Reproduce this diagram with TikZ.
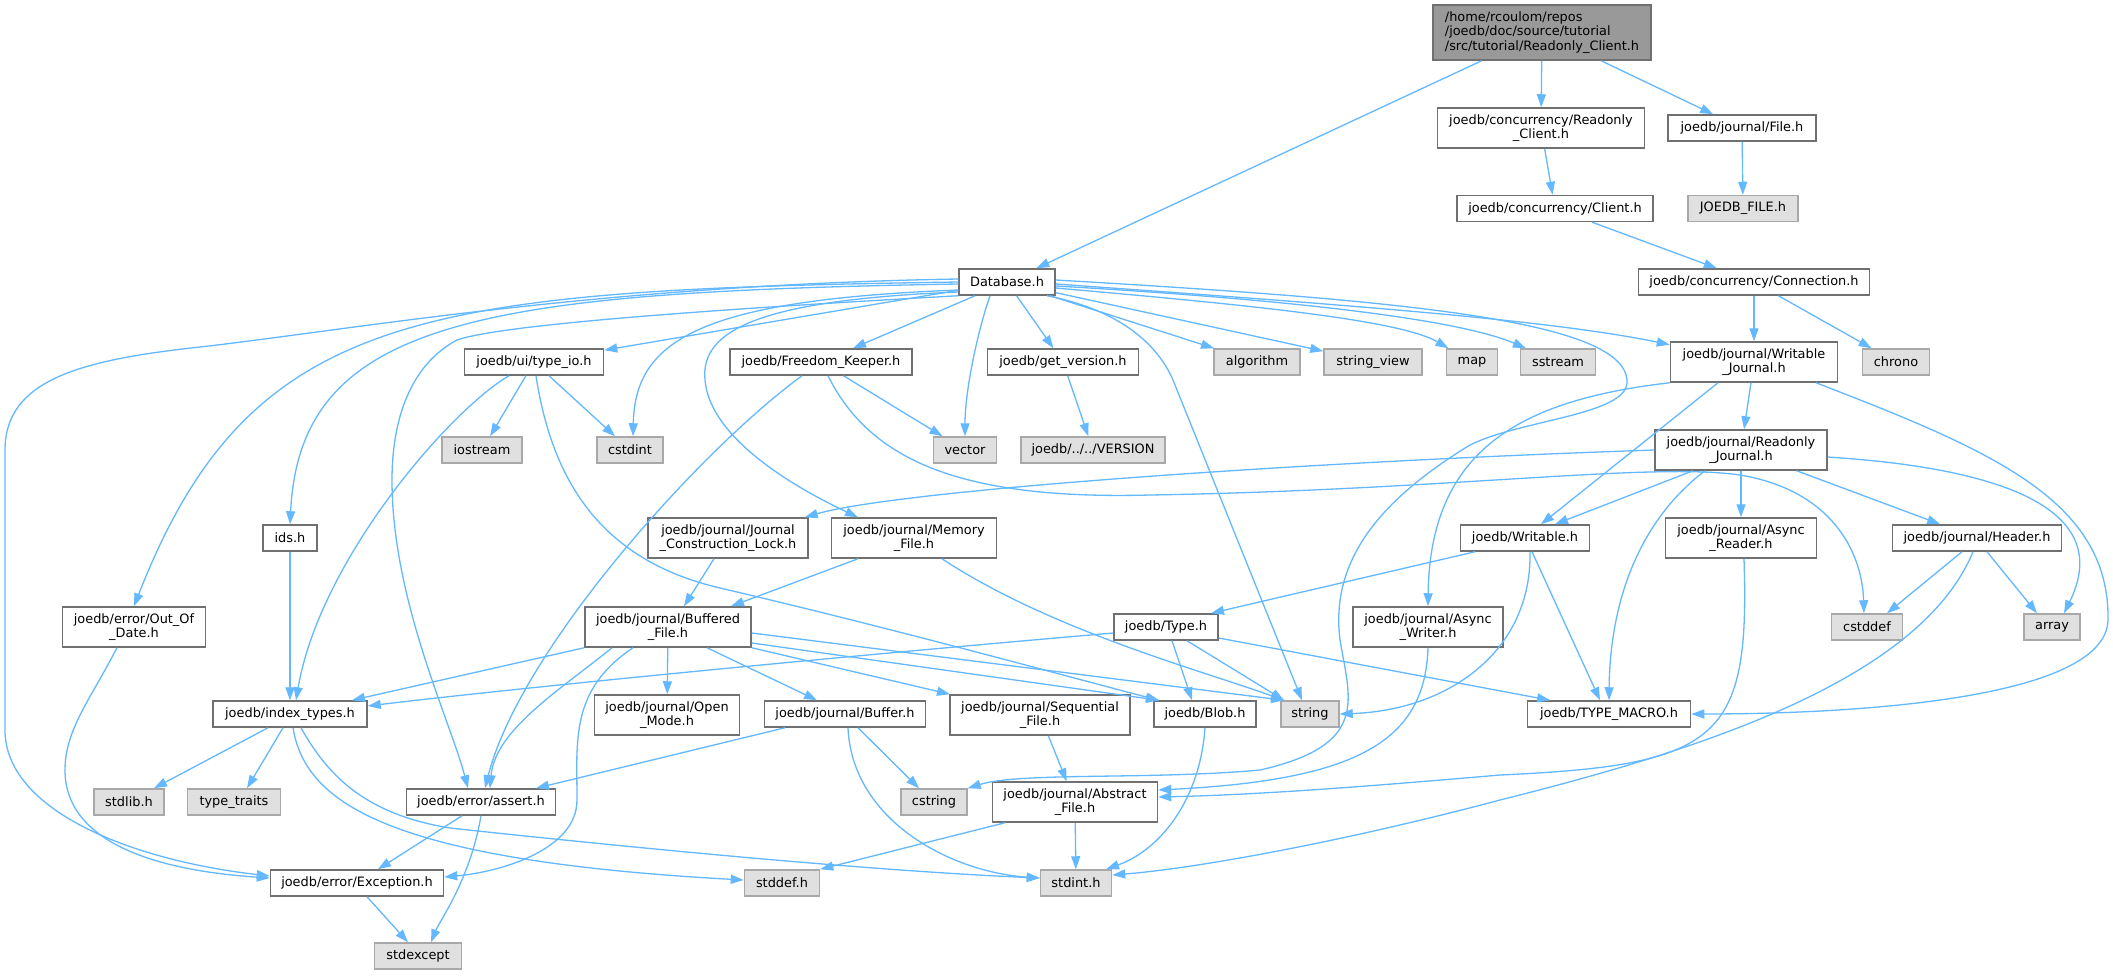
\documentclass[tikz,border=0pt]{standalone}
\usepackage{fontspec}
\setmainfont{DejaVu Sans}
\usetikzlibrary{arrows.meta}
\definecolor{edgec}{HTML}{63B8FF}
\definecolor{nbord}{HTML}{707070}
\definecolor{gbord}{HTML}{A8A8A8}
\definecolor{gfill}{HTML}{E0E0E0}
\definecolor{rfill}{HTML}{999999}
\tikzset{
  box/.style={draw=nbord, fill=white, line width=1.5pt, inner sep=0pt, align=center,
    font=\fontsize{12.9}{14.5}\selectfont},
  sys/.style={box, draw=gbord, fill=gfill},
  rootbox/.style={box, fill=rfill, align=left},
  dep/.style={draw=edgec, line width=1.3pt, -{Triangle[length=13pt,width=9pt]}},
}
\begin{document}
\begin{tikzpicture}[x=1pt,y=-1pt]
\fill[white] (0,0) rectangle (2113,975);
\useasboundingbox (0,0) rectangle (2113,975);
% nodes
\node[rootbox, minimum width=218pt, minimum height=55pt] (root) at (1542,32.5) {/home/rcoulom/repos\\/joedb/doc/source/tutorial\\/src/tutorial/Readonly\_Client.h};
\node[box, minimum width=207pt, minimum height=40pt] (rc) at (1541,128) {joedb/concurrency/Readonly\\\_Client.h};
\node[box, minimum width=148pt, minimum height=26pt] (file) at (1742,128) {joedb/journal/File.h};
\node[box, minimum width=196pt, minimum height=26pt] (client) at (1555,208.5) {joedb/concurrency/Client.h};
\node[sys, minimum width=110pt, minimum height=26pt] (jfile) at (1743,208.5) {JOEDB\_FILE.h};
\node[box, minimum width=231pt, minimum height=26pt] (conn) at (1754,282) {joedb/concurrency/Connection.h};
\node[box, minimum width=96pt, minimum height=26pt] (db) at (1007,282) {Database.h};
\node[box, minimum width=151pt, minimum height=26pt] (getver) at (1063,362) {joedb/get\_version.h};
\node[sys, minimum width=86pt, minimum height=26pt] (algorithm) at (1257,362) {algorithm};
\node[sys, minimum width=98pt, minimum height=26pt] (strview) at (1373,362) {string\_view};
\node[sys, minimum width=51pt, minimum height=26pt] (map) at (1472,362) {map};
\node[sys, minimum width=75pt, minimum height=26pt] (sstream) at (1558,362) {sstream};
\node[box, minimum width=167pt, minimum height=40pt] (wj) at (1754,362) {joedb/journal/Writable\\\_Journal.h};
\node[sys, minimum width=67pt, minimum height=26pt] (chrono) at (1896,362) {chrono};
\node[box, minimum width=139pt, minimum height=26pt] (typeio) at (534,362) {joedb/ui/type\_io.h};
\node[box, minimum width=182pt, minimum height=26pt] (fk) at (821,362) {joedb/Freedom\_Keeper.h};
\node[sys, minimum width=80pt, minimum height=26pt] (iostream) at (482,450) {iostream};
\node[sys, minimum width=66pt, minimum height=26pt] (cstdint) at (630,450) {cstdint};
\node[sys, minimum width=63pt, minimum height=26pt] (vector) at (965,450) {vector};
\node[sys, minimum width=144pt, minimum height=26pt] (version) at (1093,450) {joedb/../../VERSION};
\node[box, minimum width=172pt, minimum height=40pt] (rj) at (1741,450) {joedb/journal/Readonly\\\_Journal.h};
\node[box, minimum width=54pt, minimum height=26pt] (ids) at (290,538) {ids.h};
\node[box, minimum width=160pt, minimum height=40pt] (jcl) at (728,538) {joedb/journal/Journal\\\_Construction\_Lock.h};
\node[box, minimum width=165pt, minimum height=40pt] (mf) at (914,538) {joedb/journal/Memory\\\_File.h};
\node[box, minimum width=129pt, minimum height=26pt] (writable) at (1525,538) {joedb/Writable.h};
\node[box, minimum width=151pt, minimum height=40pt] (ar) at (1741,538) {joedb/journal/Async\\\_Reader.h};
\node[box, minimum width=169pt, minimum height=26pt] (header) at (1977,538) {joedb/journal/Header.h};
\node[box, minimum width=143pt, minimum height=40pt] (ood) at (134,627) {joedb/error/Out\_Of\\\_Date.h};
\node[box, minimum width=166pt, minimum height=40pt] (bf) at (668,627) {joedb/journal/Buffered\\\_File.h};
\node[box, minimum width=104pt, minimum height=26pt] (type) at (1166,627) {joedb/Type.h};
\node[box, minimum width=150pt, minimum height=40pt] (aw) at (1428,627) {joedb/journal/Async\\\_Writer.h};
\node[sys, minimum width=71pt, minimum height=26pt] (cstddef) at (1867,627) {cstddef};
\node[sys, minimum width=56pt, minimum height=26pt] (array) at (2052,627) {array};
\node[box, minimum width=154pt, minimum height=26pt] (idx) at (290,714) {joedb/index\_types.h};
\node[box, minimum width=145pt, minimum height=40pt] (om) at (667,715) {joedb/journal/Open\\\_Mode.h};
\node[box, minimum width=161pt, minimum height=26pt] (buffer) at (845,714) {joedb/journal/Buffer.h};
\node[box, minimum width=180pt, minimum height=40pt] (seq) at (1040,715) {joedb/journal/Sequential\\\_File.h};
\node[box, minimum width=102pt, minimum height=26pt] (blob) at (1205,714) {joedb/Blob.h};
\node[sys, minimum width=58pt, minimum height=26pt] (string) at (1310,714) {string};
\node[box, minimum width=163pt, minimum height=26pt] (tm) at (1609,714) {joedb/TYPE\_MACRO.h};
\node[sys, minimum width=70pt, minimum height=26pt] (stdlib) at (129,802) {stdlib.h};
\node[sys, minimum width=93pt, minimum height=26pt] (typetraits) at (234,802) {type\_traits};
\node[box, minimum width=149pt, minimum height=26pt] (assert) at (481,802) {joedb/error/assert.h};
\node[sys, minimum width=66pt, minimum height=26pt] (cstring) at (934,802) {cstring};
\node[box, minimum width=165pt, minimum height=40pt] (af) at (1075,802) {joedb/journal/Abstract\\\_File.h};
\node[box, minimum width=173pt, minimum height=26pt] (exc) at (357,883) {joedb/error/Exception.h};
\node[sys, minimum width=75pt, minimum height=26pt] (stddef) at (782,883) {stddef.h};
\node[sys, minimum width=71pt, minimum height=26pt] (stdint) at (1076,883) {stdint.h};
\node[sys, minimum width=87pt, minimum height=26pt] (stdexcept) at (418,956) {stdexcept};
% edges from root
\draw[dep] (root) -- (db);
\draw[dep] (root) -- (rc);
\draw[dep] (root) -- (file);
\draw[dep] (rc) -- (client);
\draw[dep] (file) -- (jfile);
\draw[dep] (client) -- (conn);
\draw[dep] (conn) -- (wj);
\draw[dep] (conn) -- (chrono);
% Database
\draw[dep] (db) -- (typeio);
\draw[dep] (db) -- (fk);
\draw[dep] (db) -- (getver);
\draw[dep] (db) -- (algorithm);
\draw[dep] (db) -- (strview);
\draw[dep] ([yshift=-6pt]db.east) .. controls (1250,305) and (1400,320) .. (map);
\draw[dep] ([yshift=-4pt]db.east) .. controls (1300,300) and (1460,320) .. (sstream);
\draw[dep] ([yshift=-2pt]db.east) .. controls (1350,305) and (1550,320) .. (wj);
\draw[dep] ([yshift=2pt]db.east) .. controls (1400,300) and (1630,320) .. (1627,383)
  .. controls (1625,415) and (1520,420) .. (1470,445)
  .. controls (1380,500) and (1330,560) .. (1340,640)
  .. controls (1350,700) and (1370,745) .. (1260,770)
  .. controls (1150,780) and (1020,772) .. (cstring.north east);
\draw[dep] ([xshift=40pt]db.south) .. controls (1120,310) and (1160,345) .. (1175,385) -- ([xshift=-8pt]string.north);
\draw[dep] ([yshift=-8pt]db.west) .. controls (700,300) and (635,340) .. ([xshift=3pt]cstdint.north);
\draw[dep] ([xshift=-17pt]db.south) .. controls (978,330) and (965,390) .. (vector.north);
\draw[dep] ([yshift=-10pt]db.west) .. controls (760,300) and (700,330) .. (705,380)
  .. controls (710,440) and (800,490) .. ([xshift=-56pt]mf.north);
\draw[dep] ([yshift=-2pt]db.west) .. controls (480,292) and (300,320) .. (ids.north);
\draw[dep] (db.west) .. controls (420,290) and (250,310) .. (ood.north);
\draw[dep] ([yshift=3pt]db.west) .. controls (600,285) and (350,330) .. (200,347)
  .. controls (80,360) and (5,380) .. (5,450) -- (5,730)
  .. controls (5,810) and (130,860) .. ([yshift=7pt]exc.west);
\draw[dep] (db.south west) .. controls (700,310) and (500,325) .. (457,340)
  .. controls (410,365) and (392,420) .. (392,480)
  .. controls (392,600) and (450,720) .. ([xshift=-13pt]assert.north);
% type_io
\draw[dep] (typeio) -- (iostream);
\draw[dep] (typeio) -- (cstdint);
\draw[dep] ([xshift=-25pt]typeio.south) .. controls (450,410) and (320,560) .. ([xshift=6pt]idx.north);
\draw[dep] ([xshift=2pt]typeio.south) .. controls (552,480) and (600,560) .. (720,588)
  .. controls (900,630) and (1080,680) .. ([xshift=-46pt]blob.north);
% Freedom_Keeper
\draw[dep] (fk) -- (vector);
\draw[dep] ([xshift=-19pt]fk.south) .. controls (700,450) and (520,650) .. ([xshift=4pt]assert.north);
\draw[dep] ([xshift=7pt]fk.south) .. controls (870,460) and (960,500) .. (1150,495)
  .. controls (1450,490) and (1650,462) .. (1740,475)
  .. controls (1830,490) and (1862,550) .. ([xshift=-3pt]cstddef.north);
\draw[dep] (getver) -- (version);
% Writable_Journal
\draw[dep] (wj) -- (rj);
\draw[dep] ([xshift=-36pt]wj.south) -- ([xshift=16pt]writable.north);
\draw[dep] (wj.south west) .. controls (1520,400) and (1430,450) .. (aw.north);
\draw[dep] ([xshift=62pt]wj.south) .. controls (1990,450) and (2110,500) .. (2108,620)
  .. controls (2106,700) and (1850,714) .. (tm.east);
% Readonly_Journal
\draw[dep] ([xshift=-48pt]rj.south) -- ([xshift=30pt]writable.north);
\draw[dep] (rj) -- (ar);
\draw[dep] (rj) -- (header);
\draw[dep] ([yshift=-7pt]rj.east) .. controls (2030,470) and (2110,520) .. ([xshift=12pt]array.north);
\draw[dep] ([xshift=-36pt]rj.south) .. controls (1640,520) and (1610,600) .. (tm.north);
\draw[dep] (rj.west) .. controls (1300,462) and (900,490) .. ([xshift=-4pt]jcl.north east);
% Header
\draw[dep] ([xshift=-15pt]header.south) -- ([xshift=20pt]cstddef.north);
\draw[dep] ([xshift=10pt]header.south) -- ([xshift=-15pt]array.north);
\draw[dep] ([xshift=-4pt]header.south) .. controls (1920,680) and (1700,750) .. (1500,800)
  .. controls (1350,840) and (1200,868) .. ([yshift=8pt]stdint.east);
% Async reader / writer
\draw[dep] ([xshift=3pt]ar.south) .. controls (1750,740) and (1720,765) .. (1500,775)
  .. controls (1350,788) and (1250,795) .. ([yshift=5pt]af.east);
\draw[dep] (aw.south) .. controls (1425,740) and (1360,780) .. ([yshift=12pt]af.east);
% Writable
\draw[dep] ([xshift=-50pt]writable.south) -- ([xshift=45pt]type.north);
\draw[dep] ([xshift=5pt]writable.south) .. controls (1532,650) and (1450,710) .. (string.east);
\draw[dep] ([xshift=7pt]writable.south) -- ([xshift=-9pt]tm.north);
% Type
\draw[dep] ([xshift=6pt]type.south) -- ([xshift=-13pt]blob.north);
\draw[dep] ([xshift=21pt]type.south) -- ([xshift=-26pt]string.north);
\draw[dep] ([yshift=-11pt]type.east) -- ([xshift=-59pt]tm.north);
\draw[dep] ([yshift=-6pt]type.west) .. controls (800,660) and (500,690) .. ([yshift=8pt]idx.east);
% Buffered_File
\draw[dep] (bf.south west) -- ([xshift=62pt]idx.north);
\draw[dep] ([xshift=-56pt]bf.south) .. controls (560,690) and (495,730) .. ([xshift=9pt]assert.north);
\draw[dep] ([xshift=-35pt]bf.south) .. controls (570,690) and (577,740) .. (577,800)
  .. controls (577,850) and (500,872) .. ([yshift=6pt]exc.east);
\draw[dep] (bf) -- (om);
\draw[dep] ([xshift=39pt]bf.south) -- ([xshift=-28pt]buffer.north);
\draw[dep] (bf.south east) -- ([xshift=-90pt]seq.north);
\draw[dep] ([yshift=-16pt]bf.east) -- ([xshift=-46pt]blob.north);
\draw[dep] ([yshift=-6pt]bf.east) -- ([xshift=-26pt]string.north);
% Memory_File, lock
\draw[dep] ([xshift=-56pt]mf.south) -- ([xshift=63pt]bf.north);
\draw[dep] ([xshift=28pt]mf.south) .. controls (1050,630) and (1200,670) .. ([xshift=-26pt]string.north);
\draw[dep] ([xshift=-14pt]jcl.south) -- ([xshift=16pt]bf.north);
% ids, out of date
\draw[dep] (ids) -- (idx);
\draw[dep] ([xshift=-17pt]ood.south) .. controls (90,700) and (65,730) .. (65,770)
  .. controls (65,840) and (150,870) .. ([yshift=5pt]exc.west);
% index_types
\draw[dep] ([xshift=-22pt]idx.south) -- ([xshift=25pt]stdlib.north);
\draw[dep] ([xshift=-7pt]idx.south) -- ([xshift=13pt]typetraits.north);
\draw[dep] ([xshift=3pt]idx.south) .. controls (305,800) and (380,860) .. ([yshift=3pt]stddef.west);
\draw[dep] ([xshift=11pt]idx.south) .. controls (330,780) and (370,815) .. (450,828)
  .. controls (700,855) and (900,872) .. ([yshift=5pt]stdint.west);
% assert, exception
\draw[dep] ([xshift=-19pt]assert.south) -- ([xshift=21pt]exc.north);
\draw[dep] (assert.south) .. controls (470,880) and (440,920) .. ([xshift=13pt]stdexcept.north);
\draw[dep] ([xshift=10pt]exc.south) -- ([xshift=-10pt]stdexcept.north);
% Buffer
\draw[dep] ([xshift=-60pt]buffer.south) -- ([xshift=55pt]assert.north);
\draw[dep] ([xshift=13pt]buffer.south) -- ([xshift=-15pt]cstring.north);
\draw[dep] ([xshift=3pt]buffer.south) .. controls (852,820) and (950,872) .. ([yshift=5pt]stdint.west);
% Sequential, Blob, Abstract
\draw[dep] (seq) -- (af);
\draw[dep] (blob.south) .. controls (1200,800) and (1160,850) .. ([xshift=30pt]stdint.north);
\draw[dep] ([xshift=-70pt]af.south) -- (stddef.north east);
\draw[dep] (af) -- (stdint);
\end{tikzpicture}
\end{document}
